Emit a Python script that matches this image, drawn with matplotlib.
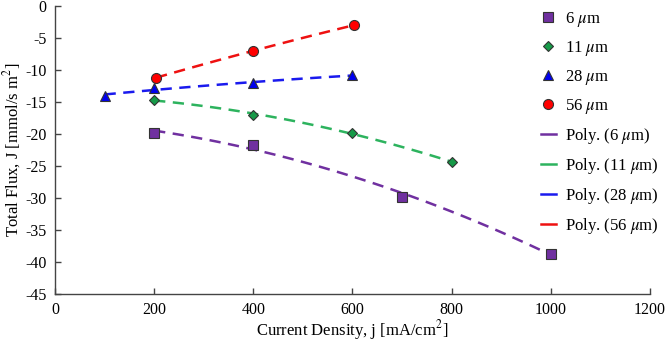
import numpy as np
import matplotlib.pyplot as plt

plt.rcParams["font.family"] = ["Liberation Serif", "DejaVu Serif"]
plt.rcParams["mathtext.fontset"] = "stix"
plt.rcParams["axes.unicode_minus"] = False

# data
x_6 = [200, 400, 700, 1000]
y_6 = [-19.8, -21.7, -29.8, -38.7]
x_11 = [200, 400, 600, 800]
y_11 = [-14.7, -17.0, -19.8, -24.4]
x_28 = [100, 200, 400, 600]
y_28 = [-14.0, -12.8, -12.1, -10.8]
x_56 = [204, 400, 603]
y_56 = [-11.2, -7.0, -3.0]

series = [
    ("6", x_6, y_6, "s", "#7030a0", "#7030a0", 7.2),
    ("11", x_11, y_11, "D", "#169a48", "#2db35e", 5.2),
    ("28", x_28, y_28, "^", "#0000ee", "#1a1aee", 7.2),
    ("56", x_56, y_56, "o", "#ff0000", "#ee1111", 7.2),
]

fig = plt.figure(figsize=(6.66, 3.43), dpi=100)
ax = fig.add_axes([0.0826, 0.143, 0.893, 0.8395])

marks, fits = [], []
for name, xs, ys, mk, mc, lc, ms in series:
    # second-order trendline like the spreadsheet "Poly." fit
    c = np.polyfit(xs, ys, 2)
    xx = np.linspace(min(xs), max(xs), 100)
    (fl,) = ax.plot(xx, np.polyval(c, xx), "--", color=lc, lw=1.8,
                    dashes=(4.5, 3), zorder=2, label=f"Poly. ({name} $\\mu$m)")
    (ml,) = ax.plot(xs, ys, mk, ms=ms, mfc=mc, mec="#333333", mew=0.8,
                    ls="none", zorder=3, label=f"{name} $\\mu$m")
    marks.append(ml)
    fits.append(fl)

ax.set_xlim(0, 1200)
ax.set_ylim(-45, 0)
ax.set_xticks(np.arange(0, 1201, 200))
ax.set_yticks(np.arange(-45, 1, 5))
for s in ("top", "right"):
    ax.spines[s].set_visible(False)
for s in ("left", "bottom"):
    ax.spines[s].set_color("#444444")
    ax.spines[s].set_linewidth(1.0)
ax.tick_params(direction="in", length=4, width=1.0, color="#444444",
               labelsize=11.5, pad=6)
ax.set_xlabel("Current Density, j [mA/cm$^2$]", fontsize=12, labelpad=0)
ax.set_ylabel("Total Flux, J [mmol/s m$^2$]", fontsize=12, labelpad=2)

leg_lines = []
for f in fits:
    (h,) = ax.plot([], [], "-", color=f.get_color(), lw=1.8,
                   label=f.get_label())
    leg_lines.append(h)
ax.legend(handles=marks + leg_lines, loc="upper left",
          bbox_to_anchor=(0.817, 0.986), frameon=False, fontsize=12,
          handlelength=0.9, handletextpad=0.55, labelspacing=0.6,
          borderpad=0, borderaxespad=0)

fig.savefig("out.png", dpi=100)
